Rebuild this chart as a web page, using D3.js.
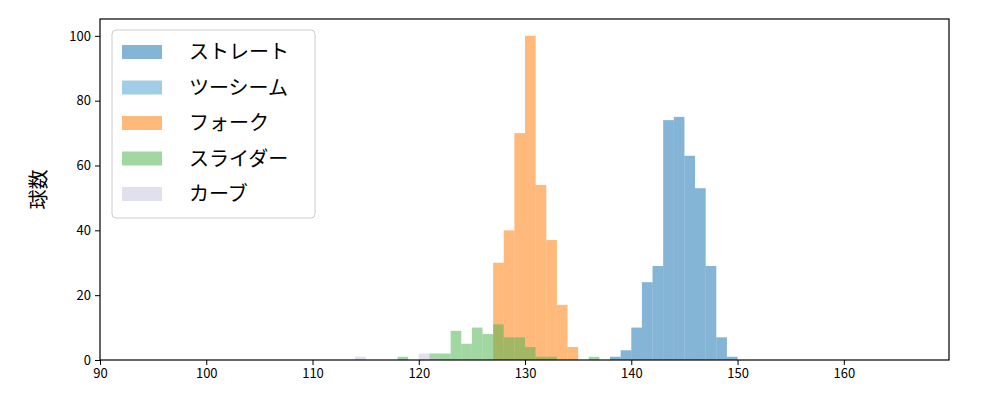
<!DOCTYPE html>
<html><head><meta charset="utf-8">
<script src="https://cdn.jsdelivr.net/npm/d3@7"></script>
<style>body{margin:0;background:#fff}text{font-family:"Noto Sans CJK JP","DejaVu Sans",sans-serif}</style>
</head><body><svg id="chart" width="1000" height="400"></svg>
<script>
const seriesNames = ['ストレート', 'ツーシーム', 'フォーク', 'スライダー', 'カーブ']
const seriesColors = ['#1f77b4', '#55a4d7', '#ff7f0e', '#54b754', '#c7c7e1']
// bins start values (width 1) and counts
const straightBins = [138, 139, 140, 141, 142, 143, 144, 145, 146, 147, 148, 149]
const straightCounts = [1, 3, 10, 24, 29, 74, 75, 63, 53, 29, 7, 1]
const twoSeamBins = []
const twoSeamCounts = []
const forkBins = [127, 128, 129, 130, 131, 132, 133, 134]
const forkCounts = [30, 40, 70, 100, 54, 37, 17, 4]
const sliderBins = [118, 121, 122, 123, 124, 125, 126, 127, 128, 129, 130, 131, 132, 136]
const sliderCounts = [1, 2, 2, 9, 5, 10, 8, 11, 7, 7, 4, 1, 1, 1]
const curveBins = [114, 120, 121]
const curveCounts = [1, 2, 1]
const xTicks = [90, 100, 110, 120, 130, 140, 150, 160]
const yTicks = [0, 20, 40, 60, 80, 100]

const allSeries = [
    [straightBins, straightCounts],
    [twoSeamBins, twoSeamCounts],
    [forkBins, forkCounts],
    [sliderBins, sliderCounts],
    [curveBins, curveCounts]
]

const margin = {top: 19, right: 51, bottom: 40, left: 100}
const width = 1000, height = 400
const svg = d3.select('#chart')

const x = d3.scaleLinear().domain([90, 169.9]).range([margin.left, width - margin.right])
const y = d3.scaleLinear().domain([0, 105.2]).range([height - margin.bottom, margin.top])

allSeries.forEach(([bins, counts], s) => {
    svg.append('g').selectAll('rect')
        .data(bins.map((b, i) => ({b: b, c: counts[i]})))
        .join('rect')
        .attr('x', d => x(d.b))
        .attr('width', d => x(d.b + 1) - x(d.b))
        .attr('y', d => y(d.c))
        .attr('height', d => y(0) - y(d.c))
        .attr('fill', seriesColors[s])
        .attr('fill-opacity', 0.55)
})

const xAxis = svg.append('g')
    .attr('transform', `translate(0,${height - margin.bottom})`)
    .call(d3.axisBottom(x).tickValues(xTicks).tickSize(5).tickPadding(4))
const yAxis = svg.append('g')
    .attr('transform', `translate(${margin.left},0)`)
    .call(d3.axisLeft(y).tickValues(yTicks).tickSize(5).tickPadding(4))
;[xAxis, yAxis].forEach(a => {
    a.selectAll('text').attr('font-size', 13).attr('fill', '#000')
    a.selectAll('line').attr('stroke', '#000')
    a.select('.domain').remove()
})

svg.append('rect')
    .attr('x', margin.left).attr('y', margin.top)
    .attr('width', width - margin.left - margin.right)
    .attr('height', height - margin.top - margin.bottom)
    .attr('fill', 'none').attr('stroke', '#000').attr('stroke-width', 1.2)

svg.append('text')
    .attr('transform', `translate(46,${(margin.top + height - margin.bottom) / 2}) rotate(-90)`)
    .attr('text-anchor', 'middle')
    .attr('font-size', 20)
    .text('球数')

// legend
const legend = svg.append('g')
legend.append('rect')
    .attr('x', 112).attr('y', 30).attr('width', 203).attr('height', 188)
    .attr('rx', 4).attr('fill', '#fff').attr('fill-opacity', 0.8)
    .attr('stroke', '#ccc')
seriesNames.forEach((name, i) => {
    const cy = 52 + i * 35.5
    legend.append('rect')
        .attr('x', 122).attr('y', cy - 7).attr('width', 40).attr('height', 14)
        .attr('fill', seriesColors[i]).attr('fill-opacity', 0.55)
    legend.append('text')
        .attr('x', 189).attr('y', cy + 7)
        .attr('font-size', 20)
        .text(name)
})
</script></body></html>
